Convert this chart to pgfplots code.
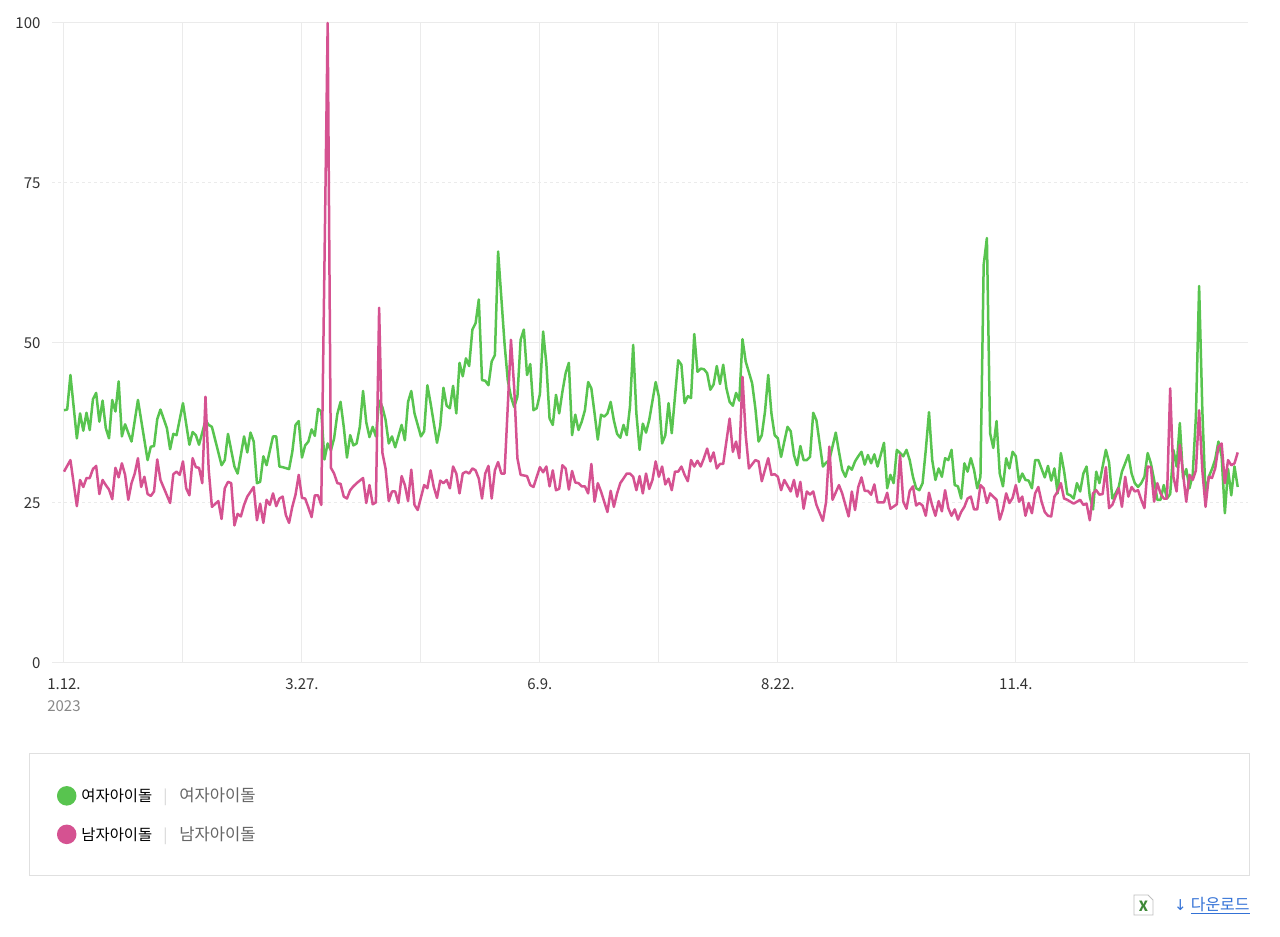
\documentclass[border=0pt]{standalone}
\usepackage{pgfplots}
\pgfplotsset{compat=1.18}
\usepackage{pgfplotstable}
\usepackage{fontspec}
\setmainfont{Noto Sans CJK KR}
\newfontfamily\symfont{DejaVu Sans}
\definecolor{lgreen}{RGB}{88,196,79}
\definecolor{lpink}{RGB}{213,82,145}
\definecolor{gridcol}{RGB}{235,235,235}
\definecolor{ticktext}{RGB}{51,51,51}
\definecolor{yeargray}{RGB}{136,136,136}
\definecolor{leggray}{RGB}{102,102,102}
\definecolor{sepgray}{RGB}{210,210,210}
\definecolor{legbox}{RGB}{224,224,224}
\definecolor{dlblue}{RGB}{52,114,214}

\pgfplotstableread{
d v
0 39.5
1 39.6
2 45.0
4 35.1
5 39.0
6 36.3
7 39.1
8 36.4
9 41.2
10 42.2
11 37.7
12 41.0
13 36.7
14 35.1
15 41.1
16 39.3
17 44.0
18 35.4
19 37.3
21 34.6
23 41.1
26 31.7
27 33.8
28 33.9
29 38.1
30 39.6
32 36.7
33 33.4
34 35.8
35 35.6
37 40.6
39 34.1
40 36.1
41 35.6
42 34.1
44 37.9
45 37.2
46 36.9
49 30.9
50 31.7
51 35.8
53 30.7
54 29.6
56 35.4
57 32.9
58 36.0
59 34.6
60 28.1
61 28.3
62 32.3
63 30.9
65 35.4
66 35.4
67 30.7
68 30.6
70 30.3
71 33.0
72 37.2
73 37.8
74 32.1
75 34.0
76 34.6
77 36.5
78 35.5
79 39.7
80 39.3
81 31.8
82 34.3
83 33.2
84 35.1
85 38.9
86 40.8
87 36.9
88 32.1
89 35.6
90 34.0
91 34.3
92 36.9
93 42.5
94 37.6
95 35.3
96 36.9
97 35.4
98 41.0
99 40.0
100 38.0
101 34.3
102 35.4
103 33.7
105 37.2
106 34.8
107 40.8
108 42.5
109 39.0
111 35.4
112 36.2
113 43.4
114 40.6
116 34.4
117 37.0
118 43.0
119 40.2
120 39.8
121 43.3
122 39.0
123 46.9
124 44.8
125 47.6
126 46.4
127 52.1
128 53.1
129 56.8
130 44.2
131 44.1
132 43.4
133 47.1
134 48.1
135 64.3
137 49.9
138 44.2
139 41.6
140 40.0
141 41.6
142 50.5
143 52.1
144 45.0
145 46.7
146 39.5
147 39.8
148 42.0
149 51.8
150 46.8
151 38.2
152 37.2
153 41.9
154 39.0
155 42.4
156 45.3
157 46.9
158 35.6
159 38.8
160 36.4
161 37.7
162 39.5
163 43.9
164 42.9
165 39.0
166 34.9
167 38.8
168 38.5
169 39.0
170 40.8
171 37.9
172 35.8
173 35.2
174 37.2
175 35.6
176 40.0
177 49.7
178 39.0
179 33.3
180 37.4
181 36.0
182 38.0
184 43.9
185 41.6
186 34.3
187 35.6
188 40.6
189 35.9
191 47.3
192 46.6
193 40.6
194 41.7
195 41.4
196 51.4
197 45.5
198 46.0
199 45.9
200 45.3
201 42.7
202 43.5
203 46.4
204 43.6
205 46.6
206 42.9
207 40.8
208 40.2
209 42.2
210 41.0
211 50.6
212 47.1
214 43.7
215 39.8
216 34.6
217 35.6
218 39.3
219 45.0
220 39.0
221 35.6
222 35.1
223 32.2
224 34.6
225 36.9
226 36.2
227 32.5
228 30.9
229 33.9
230 31.7
231 31.7
232 32.2
233 39.1
234 37.9
236 30.7
237 31.3
238 31.7
240 36.0
241 33.0
242 30.2
243 29.1
244 30.7
245 30.2
246 31.5
247 32.3
248 33.0
249 31.0
250 32.5
251 31.2
252 32.6
253 30.7
255 34.4
256 27.3
257 29.4
258 28.1
259 33.3
260 32.8
261 32.3
262 33.3
263 31.7
264 29.1
265 27.3
266 27.0
267 28.1
268 33.3
269 39.2
270 31.7
271 28.6
272 30.4
273 29.1
274 32.0
275 31.7
276 33.3
277 27.8
278 27.6
279 25.7
280 31.2
281 29.9
282 32.0
283 30.2
284 27.3
285 29.1
286 62.2
287 66.4
288 35.9
289 33.6
290 37.8
291 29.6
292 27.6
293 32.0
294 30.4
295 33.0
296 32.3
297 28.3
298 29.6
299 28.6
300 28.5
301 27.3
302 31.7
303 31.7
305 29.0
306 30.8
307 28.5
308 30.4
309 26.5
310 32.8
311 30.0
312 26.4
313 26.2
314 25.7
315 28.1
316 26.8
317 29.6
318 30.7
319 26.0
320 24.0
321 29.9
322 28.1
323 30.7
324 33.3
325 31.3
326 25.7
327 26.5
328 27.5
329 29.9
331 32.5
332 29.6
333 28.1
334 27.5
335 28.1
336 29.1
337 32.8
338 31.2
339 28.6
340 25.5
341 25.5
342 27.8
343 25.7
344 26.4
345 33.3
346 30.7
347 37.5
348 28.9
349 30.3
350 27.3
351 29.4
352 38.5
353 58.9
354 39.5
355 26.0
356 29.1
357 30.3
358 31.8
359 34.6
360 32.3
361 23.4
362 30.3
363 26.2
364 30.7
365 27.5
}\greendata

\pgfplotstableread{
d v
0 29.9
2 31.7
4 24.5
5 28.6
6 27.5
7 28.9
8 28.9
9 30.3
10 30.8
11 26.4
12 28.6
13 27.8
14 27.1
15 25.6
16 30.5
17 29.0
18 31.2
19 29.4
20 25.5
21 28.1
22 29.6
23 32.0
24 27.5
25 29.1
26 26.4
27 26.1
28 26.8
29 31.8
30 28.6
32 26.2
33 25.0
34 29.5
35 29.9
36 29.4
37 31.5
38 27.3
39 26.2
40 32.0
41 30.6
42 30.5
43 28.1
44 41.6
45 30.2
46 24.4
48 25.3
49 22.5
50 27.3
51 28.3
52 28.1
53 21.5
54 23.3
55 22.9
56 24.7
57 26.0
59 27.5
60 22.3
61 24.9
62 21.9
63 25.5
64 24.7
65 26.5
66 24.5
67 25.7
68 26.0
69 23.1
70 21.9
71 24.4
72 26.3
73 29.4
74 25.8
75 25.7
76 24.3
77 22.8
78 26.2
79 26.2
80 24.7
82 100
83 30.5
84 29.6
85 28.1
86 28.0
87 26.0
88 25.7
89 27.0
90 27.6
91 28.1
93 28.9
94 25.0
95 27.8
96 24.8
97 25.1
98 55.5
99 32.9
100 30.4
101 25.3
102 26.8
103 26.8
104 25.0
105 29.2
106 27.8
107 25.3
108 30.2
109 24.7
110 23.9
112 27.8
113 27.3
114 30.1
115 27.5
116 25.8
117 28.5
118 28.1
119 28.6
120 27.3
121 30.7
122 29.6
123 26.5
124 29.6
125 29.9
126 29.6
127 30.4
128 30.1
129 28.8
130 25.7
131 29.6
132 30.8
133 25.7
134 30.1
135 31.4
136 29.6
137 29.6
139 50.5
140 43.0
141 32.0
142 29.4
144 29.2
145 27.8
146 27.5
148 30.6
149 29.8
150 30.7
151 27.6
152 30.1
153 27.0
154 27.2
155 30.9
156 30.4
157 27.1
158 30.0
159 28.2
160 28.1
161 27.6
162 27.6
163 26.5
164 31.1
165 25.2
166 28.1
167 26.8
169 23.6
170 26.9
171 24.4
172 26.5
173 28.1
175 29.6
176 29.6
177 29.1
178 27.0
179 29.2
180 26.5
181 29.6
182 27.2
183 28.6
184 31.5
185 29.1
186 30.7
187 27.9
188 28.8
189 27.0
190 29.9
191 29.9
192 30.7
193 29.4
194 28.4
195 31.7
196 30.7
197 31.6
198 30.7
199 32.0
200 33.5
201 31.5
202 32.9
203 30.4
204 31.1
205 31.1
207 38.2
208 33.0
209 34.6
210 32.0
211 44.7
212 35.6
213 30.4
215 31.7
216 31.5
217 28.4
218 30.2
219 32.0
220 29.4
221 29.5
222 29.1
223 27.0
224 28.6
226 26.8
227 28.6
228 26.0
229 28.3
230 24.1
231 26.8
232 26.3
233 26.8
234 24.7
236 22.2
237 25.2
238 33.8
239 25.5
241 27.8
242 26.5
244 22.9
245 26.8
246 23.9
247 27.5
248 29.0
249 26.9
250 26.9
251 26.3
252 27.9
253 25.1
255 25.1
256 26.6
257 24.1
259 24.8
260 32.5
261 25.2
262 24.1
263 26.9
264 27.6
265 24.6
266 25.0
267 24.6
268 23.0
269 26.6
270 24.6
271 23.0
272 25.3
273 23.7
274 27.0
275 24.2
276 23.0
277 24.0
278 22.4
279 23.6
280 24.4
281 25.7
282 26.0
283 24.0
284 24.0
285 27.8
286 27.3
287 25.0
288 26.5
289 26.0
290 25.5
291 22.4
292 24.0
293 26.5
294 25.0
295 25.8
296 27.8
297 25.2
298 26.0
299 23.0
300 25.0
301 23.4
302 26.5
303 27.5
304 25.2
305 23.6
306 23.0
307 22.9
308 26.0
309 26.8
310 28.1
311 25.7
312 25.5
314 24.9
315 25.2
316 25.5
317 24.7
318 24.9
319 22.3
320 26.5
321 27.0
322 26.3
323 26.4
324 30.6
325 24.2
326 24.7
328 27.3
329 24.4
330 29.1
331 26.0
332 27.5
333 26.8
334 27.0
335 25.5
336 24.2
337 30.7
338 30.6
339 25.2
340 28.1
341 26.5
342 25.7
343 25.7
344 42.9
345 29.1
346 26.8
347 34.1
348 29.6
349 25.2
350 29.4
351 28.6
352 30.1
353 39.5
354 30.1
355 24.4
356 29.1
357 28.9
358 30.4
359 33.8
360 34.3
361 28.1
362 31.7
363 30.9
364 31.2
365 32.9
}\pinkdata

\begin{document}
\begin{tikzpicture}
\useasboundingbox (0pt,0pt) rectangle (1280pt,937pt);
\fill[white] (0pt,0pt) rectangle (1280pt,937pt);
\draw[legbox, line width=1pt] (29.5pt,61.5pt) rectangle (1249.5pt,183.5pt);
\begin{axis}[
  at={(52pt,274pt)}, anchor=south west,
  scale only axis, width=1196pt, height=640pt,
  xmin=-3.73, xmax=368.2, ymin=0, ymax=100,
  clip=false,
  axis line style={draw=none},
  tick style={draw=none},
  major tick length=0pt,
  xtick={0,37,74,111,148,185,222,259,296,333},
  xticklabels={{1.12.\\\textcolor{yeargray}{2023}},{},{3.27.},{},{6.9.},{},{8.22.},{},{11.4.},{}},
  xticklabel style={align=center, anchor=north, yshift=-12pt, text=ticktext, font=\fontsize{15}{22}\selectfont},
  ytick={0,50,100},
  extra y ticks={25,75},
  extra y tick style={grid=major, major grid style={gridcol, line width=1pt, dash pattern=on 3pt off 3pt}},
  yticklabel style={anchor=east, xshift=-8pt, text=ticktext, font=\fontsize{15}{18}\selectfont},
  /pgf/number format/assume math mode=true,
  xmajorgrids, ymajorgrids,
  major grid style={gridcol, line width=1pt},
  legend style={at={(axis description cs:0.004,-0.192)}, anchor=north west, draw=none, fill=none,
    font=\fontsize{15}{18}\selectfont, row sep=19pt, inner sep=0pt},
  legend cell align=left,
  legend image code/.code={\fill[#1] (7.5pt,0pt) circle (8.5pt);},
]
\addplot[lgreen, line width=2.5pt, line join=round, mark=none] table[x=d, y=v] {\greendata};
\addlegendentry{\hspace{3pt}{\color{black}\fontsize{15.4}{18}\selectfont 여자아이돌}\hspace{11pt}{\color{sepgray}|}\hspace{12pt}{\color{leggray}\fontsize{16.6}{18}\selectfont 여자아이돌}}
\addplot[lpink, line width=2.5pt, line join=round, mark=none] table[x=d, y=v] {\pinkdata};
\addlegendentry{\hspace{3pt}{\color{black}\fontsize{15.4}{18}\selectfont 남자아이돌}\hspace{11pt}{\color{sepgray}|}\hspace{12pt}{\color{leggray}\fontsize{16.6}{18}\selectfont 남자아이돌}}
\end{axis}
% excel icon
\draw[black!25, fill=white, line width=0.8pt] (1134pt,22pt) -- (1153pt,22pt) -- (1153pt,37pt) -- (1148pt,42pt) -- (1134pt,42pt) -- cycle;
\node[text=lgreen!70!black, font=\bfseries\fontsize{14}{14}\selectfont, inner sep=0pt] at (1143.5pt,31pt) {X};
\node[anchor=west, text=dlblue, font=\fontsize{16}{18}\selectfont, inner sep=0pt] at (1174pt,31pt) {{\symfont\fontsize{15}{18}\selectfont ↓}\hspace{4pt}\underline{다운로드}};
\end{tikzpicture}
\end{document}
